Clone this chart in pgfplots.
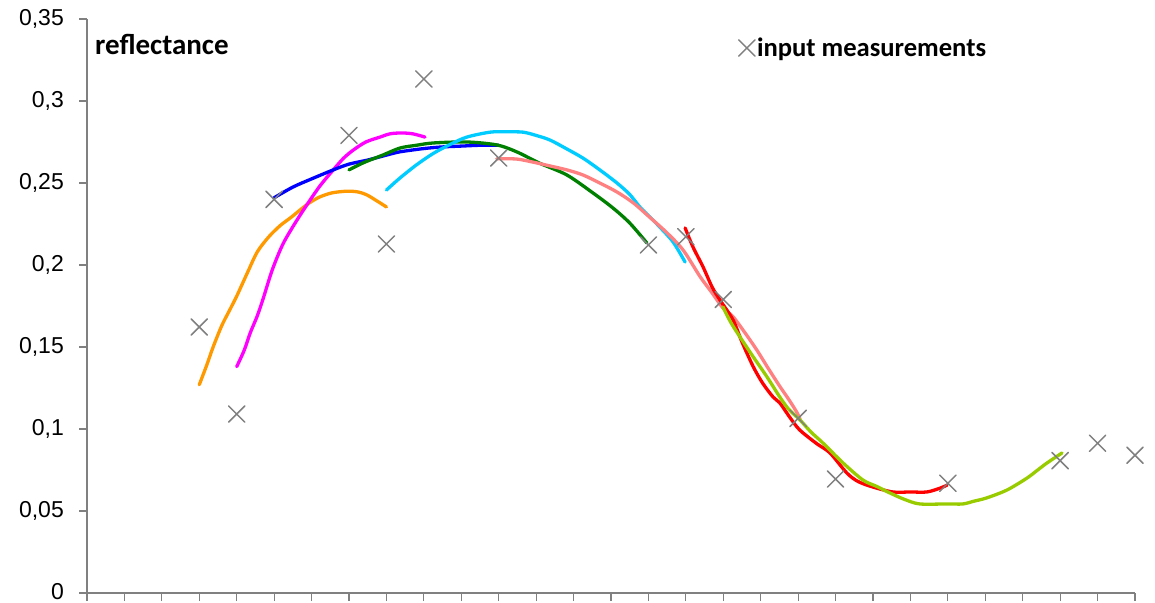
\documentclass[border=0pt]{standalone}
\usepackage{pgfplots}
\pgfplotsset{compat=1.18}
\usepackage{fontspec}
\setmainfont{Liberation Sans}
\newfontfamily\calibri{Carlito}
\definecolor{cOrange}{RGB}{255,153,0}
\definecolor{cMagenta}{RGB}{255,0,255}
\definecolor{cBlue}{RGB}{0,0,255}
\definecolor{cGreen}{RGB}{0,128,0}
\definecolor{cCyan}{RGB}{0,204,255}
\definecolor{cPink}{RGB}{255,128,128}
\definecolor{cRed}{RGB}{255,0,0}
\definecolor{cLime}{RGB}{153,204,0}
\definecolor{cGray}{RGB}{128,128,128}
\begin{document}
\begin{tikzpicture}[x=1pt,y=1pt]
\path[use as bounding box] (0,0) rectangle (1155,602);
\begin{axis}[
  at={(87pt,9pt)}, anchor=south west,
  scale only axis, width=1048pt, height=574pt,
  xmin=0, xmax=28, ymin=0, ymax=0.35,
  axis x line*=bottom, axis y line*=left,
  axis line style={draw=cGray, line width=1.1pt, -},
  xtick={0,1,...,28}, xticklabels={},
  ytick={0,0.05,0.1,0.15,0.2,0.25,0.3,0.35},
  yticklabels={0,{0,05},{0,1},{0,15},{0,2},{0,25},{0,3},{0,35}},
  tick align=outside,
  major tick length=8pt,
  tick style={draw=cGray, line width=1.1pt},
  yticklabel style={font=\fontsize{23}{23}\selectfont, inner xsep=15pt, inner ysep=0pt, text depth=0pt, yshift=2pt},
  clip=false,
  legend style={draw=none, fill=none, at={(rel axis cs:0.6217,0.9495)}, anchor=west,
    font=\calibri\bfseries\fontsize{26.6}{26.6}\selectfont, inner xsep=0pt, inner ysep=0pt},
  legend cell align=left,
  legend image code/.code={\draw[#1] plot coordinates {(-0.5pt,0cm)};},
  every axis plot/.append style={line join=round, line cap=round},
]
\addplot[only marks, mark=x, mark size=11.5pt, mark options={draw=cGray, line width=1.5pt}] coordinates {
(3,0.1622) (4,0.1091) (5,0.2400) (7,0.2790) (8,0.2128) (9,0.3134) (11,0.2652) (15,0.2122) (16,0.2172) (17,0.179) (19,0.1065) (20,0.0695) (23,0.0669) (26,0.0807) (27,0.0913) (28,0.0840)};
\addlegendentry{input measurements}

\addplot[forget plot, cOrange, line width=3.3pt, smooth] coordinates {
(3.0,0.127) (3.2,0.139) (3.37,0.150) (3.6,0.163) (3.8,0.172) (4.0,0.181) (4.3,0.196) (4.55,0.208) (4.85,0.217) (5.16,0.224) (5.45,0.229) (5.69,0.2335) (5.95,0.238) (6.22,0.2415) (6.55,0.244) (6.95,0.245) (7.25,0.2445) (7.48,0.2427) (7.75,0.239) (8.0,0.2354)};
\addplot[forget plot, cMagenta, line width=3.3pt, smooth] coordinates {
(4.0,0.138) (4.2,0.148) (4.36,0.1585) (4.55,0.169) (4.7,0.179) (4.95,0.197) (5.24,0.213) (5.6,0.227) (5.96,0.2396) (6.25,0.249) (6.58,0.258) (6.85,0.265) (7.11,0.270) (7.45,0.275) (7.83,0.278) (8.1,0.280) (8.4,0.2805) (8.7,0.280) (9.03,0.278)};
\addplot[forget plot, cBlue, line width=3.3pt, smooth] coordinates {
(5.0,0.241) (5.5,0.2475) (6.0,0.2525) (6.58,0.258) (7.0,0.2615) (7.5,0.264) (8.0,0.267) (8.36,0.269) (9.0,0.271) (9.5,0.272) (10.0,0.2725) (10.5,0.273) (11.0,0.273)};
\addplot[forget plot, cGreen, line width=3.3pt, smooth] coordinates {
(7.0,0.258) (7.4,0.2625) (7.9,0.267) (8.36,0.2713) (8.8,0.273) (9.25,0.2744) (10.15,0.275) (10.95,0.2732) (11.48,0.269) (12.1,0.262) (12.82,0.2549) (13.52,0.2439) (14.05,0.2348) (14.5,0.2256) (14.96,0.2134)};
\addplot[forget plot, cCyan, line width=3.3pt, smooth] coordinates {
(8.0,0.2457) (8.36,0.253) (8.8,0.261) (9.25,0.268) (9.7,0.2735) (10.15,0.278) (10.77,0.281) (11.2,0.2812) (11.65,0.281) (12.0,0.279) (12.37,0.2762) (12.8,0.271) (13.25,0.2652) (13.7,0.258) (14.16,0.250) (14.5,0.243) (14.77,0.2354) (15.05,0.229) (15.3,0.2232) (15.66,0.214) (15.98,0.2018)};
\addplot[forget plot, cPink, line width=3.3pt, smooth] coordinates {
(10.95,0.2648) (11.48,0.2646) (11.9,0.2628) (12.37,0.2604) (12.82,0.258) (13.25,0.2549) (13.7,0.250) (14.16,0.2445) (14.6,0.2378) (15.04,0.229) (15.5,0.2195) (15.93,0.209) (16.38,0.1929) (16.7,0.183) (16.99,0.1738) (17.26,0.1685) (17.6,0.158) (17.9,0.148) (18.2,0.137) (18.51,0.126) (18.75,0.118) (18.97,0.110) (19.05,0.106)};
\addplot[forget plot, cRed, line width=3.3pt, smooth] coordinates {
(15.98,0.2226) (16.19,0.211) (16.46,0.1988) (16.7,0.1866) (16.91,0.1787) (17.26,0.1665) (17.5,0.153) (17.8,0.138) (18.05,0.128) (18.33,0.1195) (18.51,0.1159) (18.75,0.108) (18.97,0.1012) (19.13,0.0976) (19.5,0.091) (19.85,0.0854) (20.3,0.0732) (20.6,0.068) (21.0,0.0646) (21.53,0.0616) (22.0,0.0616) (22.44,0.0616) (22.8,0.064) (22.98,0.0658)};
\addplot[forget plot, cLime, line width=3.3pt, smooth] coordinates {
(16.99,0.1744) (17.2,0.165) (17.45,0.156) (17.8,0.144) (18.17,0.1317) (18.51,0.1195) (18.75,0.112) (19.05,0.1055) (19.35,0.098) (19.66,0.0915) (20.2,0.0793) (20.73,0.0689) (21.1,0.065) (21.45,0.061) (21.85,0.057) (22.25,0.0543) (22.98,0.0543) (23.4,0.0543) (23.7,0.056) (24.04,0.058) (24.58,0.0628) (25.11,0.070) (25.4,0.075) (25.65,0.0793) (26.05,0.0854)};

\node[anchor=west, inner sep=0pt, font=\calibri\bfseries\fontsize{29}{29}\selectfont] at (rel axis cs:0.0076,0.955) {reflectance};
\end{axis}
\end{tikzpicture}
\end{document}
